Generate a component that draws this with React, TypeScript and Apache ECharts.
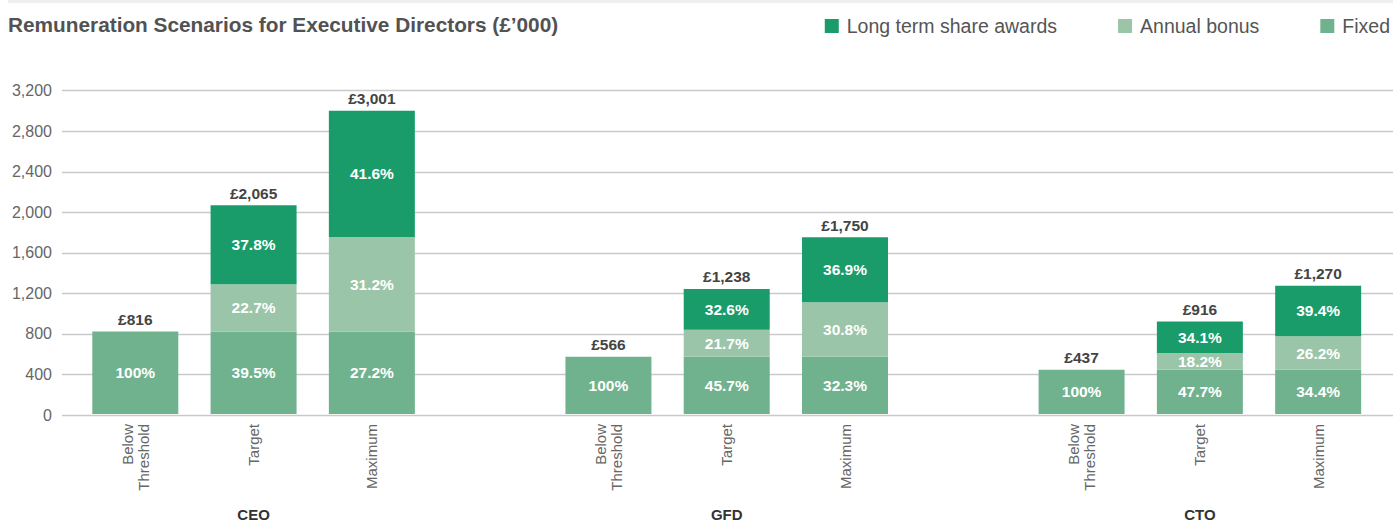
import React, { useEffect, useRef } from "react";
import * as echarts from "echarts";

const groups = ["CEO", "GFD", "CTO"];
const scenarios = ["Below\nThreshold", "Target", "Maximum"];
// per group: [Below Threshold, Target, Maximum]
const fixedValues = [816, 816, 816, 566, 566, 566, 437, 437, 437];
const bonusValues = [0, 469, 936, 0, 269, 539, 0, 167, 333];
const ltiValues = [0, 780, 1249, 0, 403, 645, 0, 312, 500];
const totals = ["£816", "£2,065", "£3,001", "£566", "£1,238", "£1,750", "£437", "£916", "£1,270"];
const fixedPct = ["100%", "39.5%", "27.2%", "100%", "45.7%", "32.3%", "100%", "47.7%", "34.4%"];
const bonusPct = ["", "22.7%", "31.2%", "", "21.7%", "30.8%", "", "18.2%", "26.2%"];
const ltiPct = ["", "37.8%", "41.6%", "", "32.6%", "36.9%", "", "34.1%", "39.4%"];
const yTicks = [0, 400, 800, 1200, 1600, 2000, 2400, 2800, 3200];

const legendNames = ["Long term share awards", "Annual bonus", "Fixed"];
const COLORS = { lti: "#1a9c6a", bonus: "#9bc5a9", fixed: "#70b28e" };
const FONT = "'Liberation Sans', Arial, Helvetica, sans-serif";

// build category axis with spacer slots between groups
const categories: string[] = [];
const groupCats: string[] = [];
const slotOf: number[] = [];
groups.forEach((g, gi) => {
  scenarios.forEach((s, si) => {
    slotOf.push(categories.length);
    categories.push(s);
    groupCats.push(si === 1 ? g : "");
  });
  if (gi < groups.length - 1) {
    categories.push("");
    groupCats.push("");
  }
});

function spread(vals: (number | string)[]): any[] {
  const out: any[] = categories.map(() => "-");
  vals.forEach((v, i) => (out[slotOf[i]] = v));
  return out;
}
function labelAt(arr: string[]) {
  return (p: any) => {
    const i = slotOf.indexOf(p.dataIndex);
    return i >= 0 ? arr[i] : "";
  };
}

export default function App() {
  const ref = useRef<HTMLDivElement>(null);
  useEffect(() => {
    if (!ref.current) return;
    const chart = echarts.init(ref.current, undefined, { renderer: "svg" });
    const top = 90.7;
    const height = 324.3;
    const insideLabel = (arr: string[]) => ({
      show: true,
      position: "inside" as const,
      color: "#ffffff",
      fontFamily: FONT,
      fontWeight: "bold" as const,
      fontSize: 15.5,
      formatter: labelAt(arr),
    });
    chart.setOption({
      animation: false,
      backgroundColor: "#ffffff",
      textStyle: { fontFamily: FONT },
      title: {
        text: "Remuneration Scenarios for Executive Directors (£’000)",
        left: 8,
        top: 14,
        padding: 0,
        textStyle: { fontFamily: FONT, fontSize: 20.8, fontWeight: "bold", color: "#525252" },
      },
      legend: {
        data: legendNames,
        right: 3,
        top: 16,
        padding: 0,
        itemWidth: 14,
        itemHeight: 14,
        itemGap: 61,
        icon: "rect",
        textStyle: { fontFamily: FONT, fontSize: 19.5, color: "#555555", padding: [0, 0, 0, 3] },
      },
      graphic: [
        { type: "rect", left: 8, top: 0, shape: { width: 1385, height: 3 }, style: { fill: "#efefef" } },
      ],
      grid: [
        { left: 62, right: 0, top, height },
        { left: 76.15, right: 15.7, top, height },
      ],
      xAxis: [
        { type: "category", gridIndex: 0, data: [""], show: true, axisLabel: { show: false }, axisTick: { show: false }, axisLine: { show: false } },
        {
          type: "category",
          gridIndex: 1,
          data: categories,
          axisLine: { show: false },
          axisTick: { show: false },
          axisLabel: {
            interval: 0,
            rotate: 90,
            margin: 10,
            fontFamily: FONT,
            fontSize: 15,
            lineHeight: 16,
            color: "#666666",
            align: "right",
            verticalAlign: "middle",
          },
        },
        {
          type: "category",
          gridIndex: 1,
          data: groupCats,
          position: "bottom",
          axisLine: { show: false },
          axisTick: { show: false },
          axisLabel: {
            interval: 0,
            margin: 93,
            fontFamily: FONT,
            fontSize: 15,
            fontWeight: "bold",
            color: "#333333",
          },
        },
      ],
      yAxis: [
        {
          type: "value",
          gridIndex: 0,
          min: 0,
          max: 3200,
          interval: 400,
          axisLine: { show: false },
          axisTick: { show: false },
          splitLine: { show: true, lineStyle: { color: "#c9c9c9", width: 1.3 } },
          axisLabel: {
            margin: 10,
            fontFamily: FONT,
            fontSize: 16,
            color: "#666666",
            formatter: (v: number) => (yTicks.includes(v) ? v.toLocaleString("en-GB") : ""),
          },
        },
        { type: "value", gridIndex: 1, min: 0, max: 3200, interval: 400, show: false, splitLine: { show: false } },
      ],
      series: [
        {
          name: "Fixed",
          type: "bar",
          xAxisIndex: 1,
          yAxisIndex: 1,
          stack: "total",
          barWidth: 86,
          itemStyle: { color: COLORS.fixed },
          label: insideLabel(fixedPct),
          data: spread(fixedValues),
        },
        {
          name: "Annual bonus",
          type: "bar",
          xAxisIndex: 1,
          yAxisIndex: 1,
          stack: "total",
          barWidth: 86,
          itemStyle: { color: COLORS.bonus },
          label: insideLabel(bonusPct),
          data: spread(bonusValues),
        },
        {
          name: "Long term share awards",
          type: "bar",
          xAxisIndex: 1,
          yAxisIndex: 1,
          stack: "total",
          barWidth: 86,
          itemStyle: { color: COLORS.lti },
          label: insideLabel(ltiPct),
          data: spread(ltiValues),
        },
        {
          name: "Total",
          type: "bar",
          xAxisIndex: 1,
          yAxisIndex: 1,
          stack: "total",
          barWidth: 86,
          itemStyle: { color: "transparent" },
          label: {
            show: true,
            position: "top",
            distance: 4,
            color: "#444444",
            fontFamily: FONT,
            fontWeight: "bold",
            fontSize: 15.5,
            formatter: labelAt(totals),
          },
          data: spread(totals.map(() => 0)),
        },
      ],
    });
    return () => chart.dispose();
  }, []);
  return (
    <div
      ref={ref}
      style={{ position: "fixed", left: 0, top: 0, width: 1393, height: 522, background: "#fff" }}
    />
  );
}
